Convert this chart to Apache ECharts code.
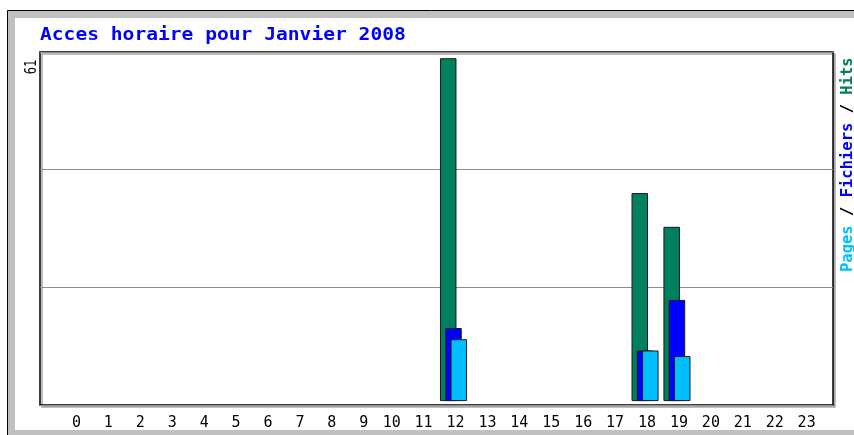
<!DOCTYPE html>
<html>
<head>
<meta charset="utf-8">
<script src="https://cdn.jsdelivr.net/npm/echarts@6/dist/echarts.min.js"></script>
<style>
  html, body { margin: 0; padding: 0; background: #fff; }
  #chart { width: 854px; height: 435px; }
</style>
</head>
<body>
<div id="chart"></div>
<script>
// données horaires (Janvier 2008)
const heures = ['0', '1', '2', '3', '4', '5', '6', '7', '8', '9', '10', '11',
  '12', '13', '14', '15', '16', '17', '18', '19', '20', '21', '22', '23'];
const hits = [0, 0, 0, 0, 0, 0, 0, 0, 0, 0, 0, 0, 61, 0, 0, 0, 0, 0, 37, 31, 0, 0, 0, 0];
const fichiers = [0, 0, 0, 0, 0, 0, 0, 0, 0, 0, 0, 0, 13, 0, 0, 0, 0, 0, 9, 18, 0, 0, 0, 0];
const pages = [0, 0, 0, 0, 0, 0, 0, 0, 0, 0, 0, 0, 11, 0, 0, 0, 0, 0, 9, 8, 0, 0, 0, 0];
const maxLabel = '61';
const titre = 'Acces horaire pour Janvier 2008';

const mono = "'DejaVu Sans Mono', monospace";
const colHits = '#00805c';
const colFichiers = '#0000ff';
const colPages = '#00c0ff';

// les heures sans acces ne dessinent rien
const toBar = (arr) => arr.map((v) => (v > 0 ? v : '-'));

const chart = echarts.init(document.getElementById('chart'));

const barStyle = (color) => ({
  color: color,
  borderColor: '#1a1a1a',
  borderWidth: 1,
});

const option = {
  animation: false,
  backgroundColor: '#fff',
  grid: [
    { left: 54.5, right: 33.4, top: 52, bottom: 30 },
    {
      left: 40, right: 21, top: 52, bottom: 30,
      show: true, z: -1,
      backgroundColor: '#fff',
      borderColor: '#000', borderWidth: 1.5,
      shadowColor: '#a8a8a8', shadowOffsetX: 2, shadowOffsetY: 2, shadowBlur: 0,
    },
  ],
  xAxis: [
    {
      type: 'category', gridIndex: 0, data: heures,
      axisLine: { show: false }, axisTick: { show: false }, splitLine: { show: false },
      axisLabel: {
        interval: 0, margin: 11,
        formatter: (v) => (v.length > 1 ? '{b|' + v + '}' : '{a|' + v + '}'),
        rich: {
          a: { padding: [0, 0, 0, 12], fontFamily: mono, fontSize: 15, color: '#000' },
          b: { padding: [0, 0, 0, 4], fontFamily: mono, fontSize: 15, color: '#000' },
        },
      },
    },
    { type: 'value', gridIndex: 1, show: false },
  ],
  yAxis: [
    { type: 'value', gridIndex: 0, min: -0.7, max: 62.1, show: false },
    {
      type: 'value', gridIndex: 1, min: 0, max: 3, interval: 1,
      axisLine: { show: false }, axisTick: { show: false }, axisLabel: { show: false },
      splitLine: { lineStyle: { color: '#8c8c8c', width: 1 } },
    },
  ],
  series: [
    { name: 'Hits', type: 'bar', data: toBar(hits), barWidth: 16.5, barGap: '-68%', itemStyle: barStyle(colHits) },
    { name: 'Fichiers', type: 'bar', data: toBar(fichiers), barWidth: 16.5, barGap: '-68%', itemStyle: barStyle(colFichiers) },
    { name: 'Pages', type: 'bar', data: toBar(pages), barWidth: 16.5, barGap: '-68%', itemStyle: barStyle(colPages) },
  ],
  graphic: [
    // cadre gris exterieur
    { type: 'rect', z: -10, shape: { x: 7.5, y: 10.5, width: 900, height: 500 },
      style: { fill: '#c0c0c0', stroke: '#000', lineWidth: 1 } },
    { type: 'rect', z: -9, shape: { x: 15, y: 18, width: 900, height: 412 },
      style: { fill: '#fff' } },
    // titre
    { type: 'text', z: 10, x: 40, y: 35.5, scaleX: 1.12,
      style: { text: titre, font: 'bold 17.5px ' + mono, fill: '#0000ff',
        align: 'left', verticalAlign: 'middle', textAlign: 'left', textVerticalAlign: 'middle' } },
    // valeur max
    { type: 'text', z: 10, x: 32, y: 67, rotation: Math.PI / 2, scaleY: 1.3,
      style: { text: maxLabel, font: '12px ' + mono, fill: '#000',
        align: 'center', verticalAlign: 'middle', textAlign: 'center', textVerticalAlign: 'middle' } },
    // legende verticale
    { type: 'text', z: 10, x: 848, y: 272, rotation: Math.PI / 2,
      style: {
        text: '{p|Pages} {s|/} {f|Fichiers} {s|/} {h|Hits}',
        font: 'bold 15.5px ' + mono,
        align: 'left', verticalAlign: 'middle', textAlign: 'left', textVerticalAlign: 'middle',
        rich: {
          p: { fill: colPages, fontFamily: mono, fontSize: 15.5, fontWeight: 'bold' },
          f: { fill: colFichiers, fontFamily: mono, fontSize: 15.5, fontWeight: 'bold' },
          h: { fill: colHits, fontFamily: mono, fontSize: 15.5, fontWeight: 'bold' },
          s: { fill: '#000', fontFamily: mono, fontSize: 15.5, fontWeight: 'bold' },
        },
      } },
  ],
};

chart.setOption(option);
window.addEventListener('resize', () => chart.resize());
</script>
</body>
</html>
